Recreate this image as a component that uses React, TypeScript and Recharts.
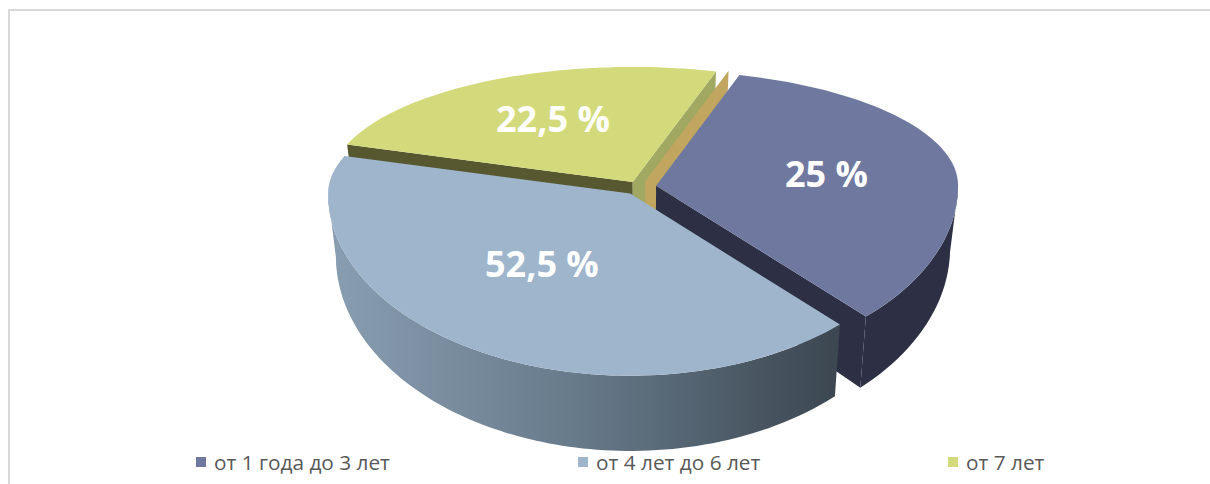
import React, { useLayoutEffect } from 'react';
import { PieChart, Pie, Legend } from 'recharts';

// categories / values (the last, unnamed one is the thin tan sliver)
const CATEGORIES = ['от 1 года до 3 лет', 'от 4 лет до 6 лет', 'от 7 лет', ''];
const VALUES = [25, 52.5, 22.5, 0];
const VALUE_LABELS = ['25 %', '52,5 %', '22,5 %', ''];

const TOP_COLORS = ['#6f79a0', '#9fb5cc', '#d3da7b', '#c1a65f'];
const WALL_STYLES = [
  { start: '#2d3045', end: '#2d3045', side: '#2d3045' },
  { start: '#3b4650', end: '#3b4650', side: 'url(#blueSide)' },
  { start: '#57582f', end: '#a1a862', side: '#57582f' },
  { start: '#c1a65f', end: '#c1a65f', side: '' },
];

const data = CATEGORIES.map((name, i) => ({ name, value: VALUES[i] }));

// fake 3d view, tuned to the Excel picture
const RAD = Math.PI / 180;
const K_BACK = 0.381;
const K_FRONT = 0.603;
const DEPTH = 62;
const SHRINK_X = 0.975;
const STRETCH_Y = 1.07;
const EXPLODE = 0.0513;
const WARP_A = 21.4;
const WARP_B = 24.1;
const LABEL_FRAC = 0.55;

type Pt = { x: number; y: number };

const warp = (a: number) => a + WARP_A * Math.sin((a - WARP_B) * RAD);

const rim = (base: Pt, s: number, r: number): Pt => {
  const sn = Math.sin(s * RAD);
  return {
    x: base.x + r * Math.cos(s * RAD),
    y: base.y - r * sn * (sn > 0 ? K_BACK : K_FRONT),
  };
};

const apexOf = (cx: number, cy: number, r: number, mid: number) => rim({ x: cx, y: cy }, warp(mid), r * EXPLODE);

const drop = (p: Pt, cx: number, cy: number): Pt => ({
  x: cx + SHRINK_X * (p.x - cx),
  y: cy + STRETCH_Y * (p.y - cy) + DEPTH,
});

const arcAngles = (start: number, end: number) => {
  const n = Math.max(2, Math.ceil(Math.abs(end - start) / 1.5));
  return Array.from({ length: n + 1 }, (_, k) => start + ((end - start) * k) / n);
};

const pts = (list: Pt[]) => list.map((p) => `${p.x.toFixed(1)},${p.y.toFixed(1)}`).join(' ');

// area centroid of a closed polygon
const centroid = (poly: Pt[]): Pt => {
  let a = 0;
  let x = 0;
  let y = 0;
  poly.forEach((p, i) => {
    const q = poly[(i + 1) % poly.length];
    const c = p.x * q.y - q.x * p.y;
    a += c;
    x += (p.x + q.x) * c;
    y += (p.y + q.y) * c;
  });
  return { x: x / (3 * a), y: y / (3 * a) };
};

const renderWalls = (only: number[]) => (props: any) => {
  const { cx, cy, outerRadius: r, startAngle, endAngle, index } = props;
  if (!only.includes(index)) return <g key={`w-${index}`} />;
  const mid = (startAngle + endAngle) / 2;
  const A = apexOf(cx, cy, r, mid);
  const style = WALL_STYLES[index];
  const parts: React.ReactNode[] = [];

  // radial walls, only the ones turned towards the viewer
  const radial: [number, number, string][] = [
    [startAngle, 90, style.start],
    [endAngle, -90, style.end],
  ];
  radial.forEach(([ang, turn, color], k) => {
    const s = warp(ang);
    if (Math.sin((s + turn) * RAD) >= 0) return;
    const E = rim(A, s, r);
    parts.push(
      <polygon key={`r${k}`} points={pts([A, E, drop(E, cx, cy), drop(A, cx, cy)])} fill={color} />
    );
  });

  // curved outer side on the front half
  const front = arcAngles(startAngle, endAngle).filter((a) => Math.sin(warp(a) * RAD) < 0.001);
  if (style.side && front.length > 1 && startAngle !== endAngle) {
    const topArc = front.map((a) => rim(A, warp(a), r));
    const botArc = topArc.map((p) => drop(p, cx, cy)).reverse();
    parts.push(<polygon key="side" points={pts([...topArc, ...botArc])} fill={style.side} />);
  }

  return (
    <g key={`w-${index}`}>
      <defs>
        <linearGradient id="blueSide" x1="0" y1="0" x2="1" y2="0">
          <stop offset="0%" stopColor="#8a9eb2" />
          <stop offset="50%" stopColor="#667989" />
          <stop offset="100%" stopColor="#3b4650" />
        </linearGradient>
      </defs>
      {parts}
    </g>
  );
};

const renderTops = (props: any) => {
  const { cx, cy, outerRadius: r, startAngle, endAngle, index } = props;
  if (startAngle === endAngle) return <g key={`t-${index}`} />;
  const mid = (startAngle + endAngle) / 2;
  const A = apexOf(cx, cy, r, mid);
  const face = [A, ...arcAngles(startAngle, endAngle).map((a) => rim(A, warp(a), r))];
  // label: halfway between the face centroid and a point on the mid line
  const C = centroid(face);
  const M = rim(A, warp(mid), r * LABEL_FRAC);
  const lx = (C.x + M.x + 14) / 2;
  const ly = (C.y + M.y - 7) / 2 - 2;
  return (
    <g key={`t-${index}`}>
      <polygon points={pts(face)} fill={TOP_COLORS[index]} />
      <text
        x={lx}
        y={ly}
        textAnchor="middle"
        dominantBaseline="central"
        fill="#ffffff"
        fontFamily="'Open Sans', sans-serif"
        fontWeight={700}
        fontSize={36}
      >
        {VALUE_LABELS[index]}
      </text>
    </g>
  );
};

const LEGEND_X = [186, 568, 938];

const renderLegend = () => (
  <div style={{ position: 'relative', height: 26, fontFamily: "'Open Sans', sans-serif", fontSize: 20.8, lineHeight: '26px', color: '#595959' }}>
    {CATEGORIES.filter((c) => c).map((c, i) => (
      <div key={c} style={{ position: 'absolute', left: LEGEND_X[i], top: 0, display: 'flex', alignItems: 'center', whiteSpace: 'nowrap' }}>
        <span style={{ display: 'inline-block', width: 10, height: 10, background: TOP_COLORS[i], marginRight: 8 }} />
        <span>{c}</span>
      </div>
    ))}
  </div>
);

const START = 61.1;

const pieCommon = {
  data,
  dataKey: 'value',
  nameKey: 'name',
  cx: 631,
  cy: 176,
  outerRadius: 302,
  startAngle: START,
  endAngle: START - 360,
  fill: 'none',
  stroke: 'none',
  labelLine: false,
  isAnimationActive: false,
  legendType: 'none' as const,
};

export default function App() {
  // no scrollbars on the page
  useLayoutEffect(() => {
    document.documentElement.style.overflow = 'hidden';
    document.body.style.overflow = 'hidden';
  }, []);

  return (
    <div
      style={{
        position: 'absolute',
        left: 8,
        top: 9,
        width: 1230,
        height: 480,
        overflow: 'hidden',
        boxSizing: 'border-box',
        borderTop: '2px solid #d9d9d9',
        borderLeft: '2px solid #d9d9d9',
        background: '#fff',
      }}
    >
      <PieChart width={1198} height={470} margin={{ top: 0, right: 0, bottom: 0, left: 0 }}>
        <Pie {...pieCommon} label={renderWalls([2, 3])} />
        <Pie {...pieCommon} label={renderWalls([0, 1])} />
        <Pie {...pieCommon} label={renderTops} />
        <Legend content={renderLegend} wrapperStyle={{ position: 'absolute', left: 0, top: 438, width: 1198 }} />
      </PieChart>
    </div>
  );
}
